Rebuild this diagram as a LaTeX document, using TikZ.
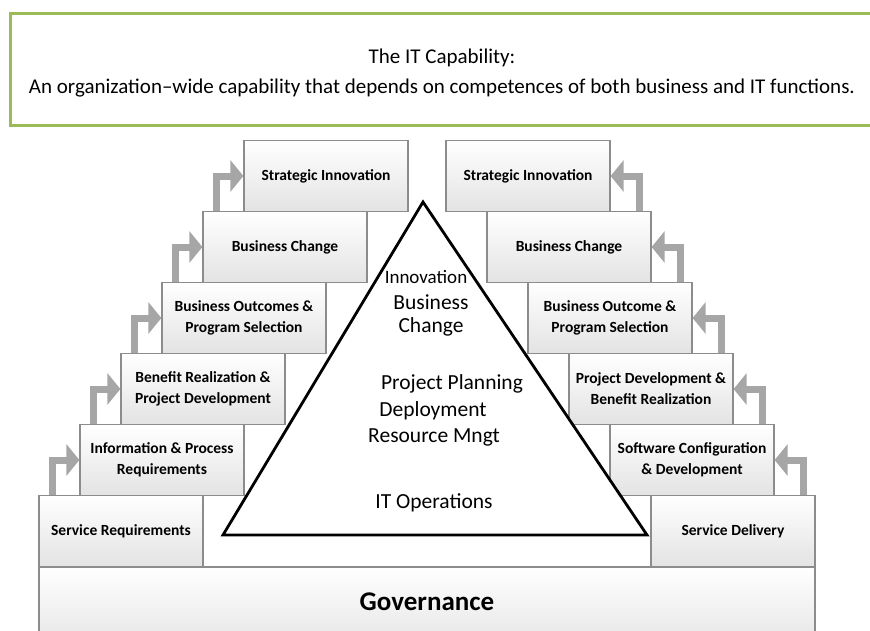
\documentclass[tikz,border=0pt]{standalone}
\usepackage{fontspec}
\setmainfont{Carlito}
\usepackage{tikz}
\usetikzlibrary{arrows.meta,calc}

\definecolor{capgreen}{HTML}{9BBB59}
\definecolor{boxline}{HTML}{8C8C8C}
\definecolor{stepgray}{HTML}{A6A6A6}

\tikzset{
  stepbox/.style={rectangle, draw=boxline, line width=1.2pt, top color=white, bottom color=black!11,
    minimum width=164pt, minimum height=71pt, align=center, inner sep=2pt,
    font=\fontsize{15.5}{21}\selectfont\bfseries},
  steparrow/.style={draw=stepgray, line width=7pt, -{Triangle[width=31pt,length=13pt]}},
  pyrtext/.style={font=\fontsize{21.5}{24}\selectfont, inner sep=0pt}
}

\begin{document}
\begin{tikzpicture}[x=1pt, y=-1pt]
            \useasboundingbox (0,0) rectangle (870,630);
            \clip (0,0) rectangle (870,630);

            % Header
            \node[draw=capgreen, line width=3pt, minimum width=864pt, minimum height=112pt] (cap) at (442,69) {};
            \node[align=center, font=\fontsize{21}{30}\selectfont] (captext) at (442,73)
                  {The IT Capability:\\An organization--wide capability that depends on competences of both business and IT functions.};

            % Base
            \node[draw=boxline, line width=1.2pt, top color=white, bottom color=black!9,
                  minimum width=776pt, minimum height=70pt, font=\fontsize{27}{30}\selectfont\bfseries] (gov) at (427,602) {Governance};

            % Nodes, left steps
            \node[stepbox] (sreq) at (121,531) {Service Requirements};
            \node[stepbox] (ipr)  at (162,460) {Information \& Process\\Requirements};
            \node[stepbox] (brpd) at (203,389) {Benefit Realization \&\\Project Development};
            \node[stepbox] (bops) at (244,318) {Business Outcomes \&\\Program Selection};
            \node[stepbox] (bchl) at (285,247) {Business Change};
            \node[stepbox] (sinl) at (326,176) {Strategic Innovation};

            % Nodes, right steps
            \node[stepbox] (sdel) at (733,531) {Service Delivery};
            \node[stepbox] (scd)  at (692,460) {Software Configuration\\\& Development};
            \node[stepbox] (pdbr) at (651,389) {Project Development \&\\Benefit Realization};
            \node[stepbox] (bopr) at (610,318) {Business Outcome \&\\Program Selection};
            \node[stepbox] (bchr) at (569,247) {Business Change};
            \node[stepbox] (sinr) at (528,176) {Strategic Innovation};

            % Edges
            \draw[steparrow] ($(sreq.north west)+(14,0)$) |- (ipr.west);
            \draw[steparrow] ($(ipr.north west)+(14,0)$) |- (brpd.west);
            \draw[steparrow] ($(brpd.north west)+(14,0)$) |- (bops.west);
            \draw[steparrow] ($(bops.north west)+(14,0)$) |- (bchl.west);
            \draw[steparrow] ($(bchl.north west)+(14,0)$) |- (sinl.west);

            \draw[steparrow] ($(sdel.north east)+(-12,0)$) |- (scd.east);
            \draw[steparrow] ($(scd.north east)+(-12,0)$) |- (pdbr.east);
            \draw[steparrow] ($(pdbr.north east)+(-12,0)$) |- (bopr.east);
            \draw[steparrow] ($(bopr.north east)+(-12,0)$) |- (bchr.east);
            \draw[steparrow] ($(bchr.north east)+(-12,0)$) |- (sinr.east);

            % Pyramid
            \coordinate (apex) at (423,202);
            \coordinate (bl) at (223,535);
            \coordinate (br) at (647,535);
            \draw[line width=2.8pt, fill=white, line join=miter] (apex) -- (br) -- (bl) -- cycle;

            \node[pyrtext, font=\fontsize{19}{24}\selectfont] (inno) at (426,277) {Innovation};
            \node[pyrtext] (bus)  at (431,302) {Business};
            \node[pyrtext] (chg)  at (431,327) {Change};
            \node[pyrtext] (plan) at (452,384) {Project Planning};
            \node[pyrtext] (depl) at (433,411) {Deployment};
            \node[pyrtext] (res)  at (434,437) {Resource Mngt};
            \node[pyrtext] (itop) at (434,503) {IT Operations};
        \end{tikzpicture}
\end{document}
